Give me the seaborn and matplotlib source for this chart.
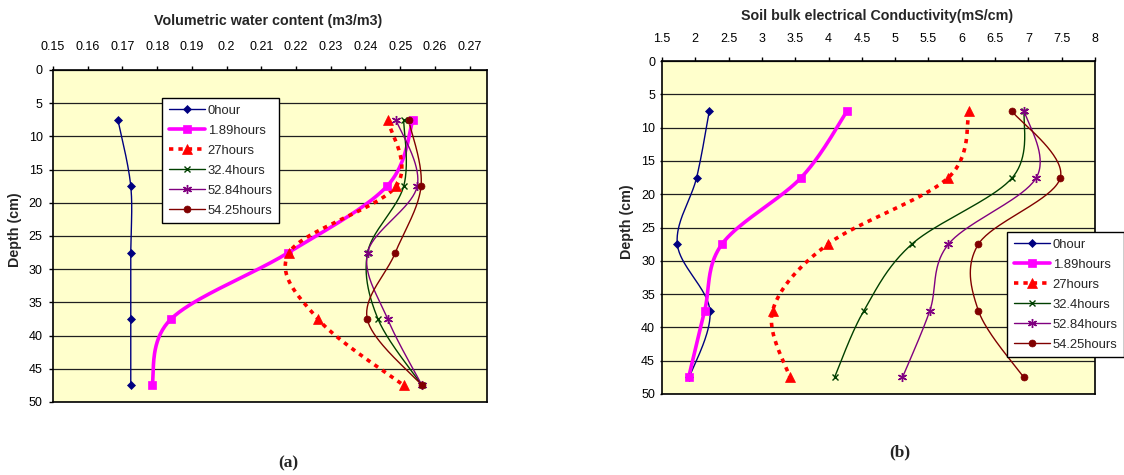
import numpy as np
import pandas as pd
import matplotlib
matplotlib.use("Agg")
import matplotlib.pyplot as plt
import seaborn as sns
from matplotlib.lines import Line2D
from matplotlib.ticker import FuncFormatter

# ---------------- data ----------------
depth = [7.5, 17.5, 27.5, 37.5, 47.5]
series_labels = ["0hour", "1.89hours", "27hours", "32.4hours", "52.84hours", "54.25hours"]

vwc_0h = [0.1687, 0.1724, 0.1724, 0.1724, 0.1724]
vwc_1_89h = [0.2537, 0.2462, 0.2178, 0.1840, 0.1785]
vwc_27h = [0.2464, 0.2488, 0.2180, 0.2263, 0.2510]
vwc_32_4h = [0.2510, 0.2510, 0.2406, 0.2436, 0.2563]
vwc_52_84h = [0.2488, 0.2549, 0.2406, 0.2464, 0.2563]
vwc_54_25h = [0.2524, 0.2560, 0.2486, 0.2405, 0.2563]

ec_0h = [2.21, 2.02, 1.73, 2.22, 1.91]
ec_1_89h = [4.28, 3.59, 2.40, 2.14, 1.90]
ec_27h = [6.11, 5.80, 3.99, 3.16, 3.42]
ec_32_4h = [6.94, 6.76, 5.25, 4.53, 4.09]
ec_52_84h = [6.94, 7.12, 5.80, 5.52, 5.11]
ec_54_25h = [6.75, 7.48, 6.25, 6.25, 6.93]

vwc_ticks = [0.15, 0.16, 0.17, 0.18, 0.19, 0.20, 0.21, 0.22, 0.23, 0.24, 0.25, 0.26, 0.27]
ec_ticks = [1.5, 2, 2.5, 3, 3.5, 4, 4.5, 5, 5.5, 6, 6.5, 7, 7.5, 8]
depth_ticks = [0, 5, 10, 15, 20, 25, 30, 35, 40, 45, 50]

# ---------------- styles ----------------
styles = [
    dict(color="#000080", lw=1.0, ls="-", marker="D", ms=4.5, mew=0.5),
    dict(color="#FF00FF", lw=2.6, ls="-", marker="s", ms=5.5, mew=0.5),
    dict(color="#FF0000", lw=2.6, ls=(0, (1.2, 1.4)), marker="^", ms=6.5, mew=0.5),
    dict(color="#004000", lw=1.0, ls="-", marker="x", ms=5, mew=1.0),
    dict(color="#800080", lw=1.0, ls="-", marker=(6, 2, 0), ms=6.5, mew=1.0),
    dict(color="#800000", lw=1.0, ls="-", marker="o", ms=5, mew=0.5),
]

sns.set_style("ticks")
plt.rcParams["font.family"] = ["Liberation Sans", "DejaVu Sans"]

W, H = 1124, 475
fig = plt.figure(figsize=(W / 100, H / 100), dpi=100)

TICK_FS = 9.0
TITLE_FS = 10.3
LEG_FS = 9.4


def fig_rect(x0, y0, x1, y1):
    return [x0 / W, 1 - y1 / H, (x1 - x0) / W, (y1 - y0) / H]


def smooth(ax, xs, ys, n=40):
    pts = ax.transData.transform(np.column_stack([xs, ys]))
    P = np.vstack([pts[0], pts, pts[-1]])
    out = []
    t = np.linspace(0, 1, n)[:, None]
    for i in range(1, len(P) - 2):
        p0, p1, p2, p3 = P[i - 1], P[i], P[i + 1], P[i + 2]
        c1 = p1 + (p2 - p0) / 6.0
        c2 = p2 - (p3 - p1) / 6.0
        seg = (1 - t) ** 3 * p1 + 3 * (1 - t) ** 2 * t * c1 + 3 * (1 - t) * t ** 2 * c2 + t ** 3 * p2
        out.append(seg if i == 1 else seg[1:])
    curve = ax.transData.inverted().transform(np.vstack(out))
    return curve[:, 0], curve[:, 1]


def setup_axes(rect, xlim, xticks, xpad, ytick_len, ypad):
    ax = fig.add_axes(rect)
    ax.set_facecolor("#FFFFCC")
    ax.set_xlim(*xlim)
    ax.set_ylim(50, 0)
    ax.xaxis.tick_top()
    ax.set_xticks(xticks)
    ax.xaxis.set_major_formatter(FuncFormatter(lambda v, p: f"{round(v, 3):g}"))
    ax.set_yticks(depth_ticks)
    ax.yaxis.grid(True, color="#202020", lw=0.9)
    ax.xaxis.grid(False)
    ax.set_axisbelow(True)
    for s in ax.spines.values():
        s.set_visible(True)
        s.set_color("black")
        s.set_linewidth(1.2)
    ax.tick_params(axis="x", direction="out", length=3, width=1, labelsize=TICK_FS, pad=xpad, colors="black")
    ax.tick_params(axis="y", direction="out", length=ytick_len, width=1, labelsize=TICK_FS, pad=ypad, colors="black")
    ax.set_xlabel("")
    ax.set_ylabel("")
    return ax


def draw_series(ax, series):
    handles = []
    for vals, st, lab in zip(series, styles, series_labels):
        cx, cy = smooth(ax, vals, depth)
        sns.lineplot(x=cx, y=cy, sort=False, estimator=None, ax=ax, color=st["color"],
                     lw=st["lw"], linestyle=st["ls"], legend=False)
        ax.plot(vals, depth, linestyle="none", marker=st["marker"], ms=st["ms"],
                color=st["color"], mfc=st["color"], mec=st["color"], mew=st["mew"],
                clip_on=False, zorder=5)
        handles.append(Line2D([], [], color=st["color"], lw=st["lw"], linestyle=st["ls"],
                              marker=st["marker"], ms=st["ms"], mfc=st["color"],
                              mec=st["color"], mew=st["mew"], label=lab))
    return handles


def add_legend(ax, handles, x0, y0):
    leg = ax.legend(handles=handles, loc="upper left", bbox_to_anchor=(x0 / W, 1 - y0 / H),
                    bbox_transform=fig.transFigure, frameon=True, fancybox=False, shadow=False,
                    fontsize=LEG_FS, handlelength=2.8, handletextpad=0.2, labelspacing=0.6,
                    borderpad=0.5, borderaxespad=0.0, framealpha=1.0)
    leg.get_frame().set_edgecolor("black")
    leg.get_frame().set_linewidth(1.0)
    leg.set_zorder(10)
    return leg


# ---------------- panel (a) ----------------
ax1 = setup_axes(fig_rect(53, 70, 487, 402), (0.15, 0.275), vwc_ticks, 9.5, 3, 4.5)
h1 = draw_series(ax1, [vwc_0h, vwc_1_89h, vwc_27h, vwc_32_4h, vwc_52_84h, vwc_54_25h])
add_legend(ax1, h1, 162, 98)

# ---------------- panel (b) ----------------
ax2 = setup_axes(fig_rect(662, 61, 1095, 394), (1.5, 8), ec_ticks, 8.5, 1.5, 3.5)
h2 = draw_series(ax2, [ec_0h, ec_1_89h, ec_27h, ec_32_4h, ec_52_84h, ec_54_25h])
add_legend(ax2, h2, 1007, 232)

# ---------------- texts ----------------
fig.text(268 / W, 1 - 21 / H, "Volumetric water content (m3/m3)", ha="center", va="center",
         fontsize=TITLE_FS, fontweight="bold")
fig.text(877 / W, 1 - 16 / H, "Soil bulk electrical Conductivity(mS/cm)", ha="center", va="center",
         fontsize=TITLE_FS, fontweight="bold")
fig.text(15 / W, 1 - 230 / H, "Depth (cm)", ha="center", va="center", rotation=90,
         fontsize=TITLE_FS, fontweight="bold")
fig.text(627 / W, 1 - 222 / H, "Depth (cm)", ha="center", va="center", rotation=90,
         fontsize=TITLE_FS, fontweight="bold")
fig.text(288 / W, 1 - 463 / H, "(a)", ha="center", va="center", fontsize=12.5,
         fontweight="bold", family=["Liberation Serif", "DejaVu Serif"])
fig.text(900 / W, 1 - 452 / H, "(b)", ha="center", va="center", fontsize=12.5,
         fontweight="bold", family=["Liberation Serif", "DejaVu Serif"])

fig.savefig("out.png", dpi=100, facecolor="white")
